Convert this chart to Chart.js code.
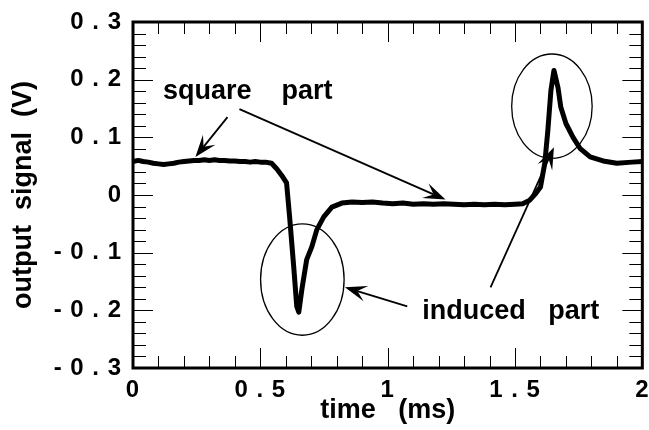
<!DOCTYPE html>
<html>
<head>
<meta charset="utf-8">
<script src="https://cdn.jsdelivr.net/npm/chart.js@4"></script>
<style>
  body { margin: 0; background: #fff; }
  canvas { display: block; }
</style>
</head>
<body>
<canvas id="grafica" width="649" height="430"></canvas>
<script>
// measured signal, time in ms, voltage in V
const timeMs = [0.00, 0.02, 0.04, 0.06, 0.08, 0.10, 0.12, 0.14, 0.16, 0.18, 0.20, 0.22, 0.24, 0.26, 0.28, 0.30,
  0.32, 0.34, 0.36, 0.38, 0.40, 0.42, 0.44, 0.46, 0.48, 0.50, 0.52, 0.544, 0.565, 0.584, 0.603, 0.615, 0.631,
  0.643, 0.651, 0.663, 0.682, 0.702, 0.722, 0.749, 0.781, 0.82, 0.86, 0.90, 0.94, 0.98, 1.02, 1.06, 1.10, 1.14,
  1.18, 1.22, 1.26, 1.30, 1.34, 1.38, 1.42, 1.46, 1.50, 1.53, 1.558, 1.582, 1.60, 1.617, 1.629, 1.641, 1.653,
  1.669, 1.68, 1.70, 1.728, 1.755, 1.795, 1.846, 1.90, 1.96, 2.00];
const signalV = [0.058, 0.060, 0.058, 0.057, 0.055, 0.054, 0.053, 0.054, 0.055, 0.057, 0.058, 0.059, 0.060, 0.060, 0.061, 0.060,
  0.061, 0.060, 0.060, 0.059, 0.059, 0.058, 0.058, 0.057, 0.058, 0.057, 0.057, 0.055, 0.045, 0.034, 0.021, -0.038, -0.124,
  -0.193, -0.203, -0.164, -0.112, -0.090, -0.060, -0.038, -0.021, -0.014, -0.012, -0.013, -0.012, -0.014, -0.015, -0.014, -0.016, -0.015,
  -0.016, -0.015, -0.016, -0.017, -0.016, -0.017, -0.016, -0.017, -0.016, -0.015, -0.009, 0.003, 0.014, 0.055, 0.112, 0.181, 0.216,
  0.186, 0.152, 0.124, 0.100, 0.081, 0.066, 0.059, 0.055, 0.057, 0.058];

const xTickValues = [0, 0.5, 1, 1.5, 2];
const xTickLabels = ['0', '0 . 5', '1', '1 . 5', '2'];
const yTickValues = [-0.3, -0.2, -0.1, 0, 0.1, 0.2, 0.3];
const yTickLabels = ['- 0 . 3', '- 0 . 2', '- 0 . 1', '0', '0 . 1', '0 . 2', '0 . 3'];

const FONT = '"Liberation Sans", Arial, sans-serif';

function etiqueta(v, valores, textos) {
  for (let i = 0; i < valores.length; i++) {
    if (Math.abs(v - valores[i]) < 1e-6) return textos[i];
  }
  return '';
}

function flecha(ctx, x0, y0, x1, y1) {
  const ang = Math.atan2(y1 - y0, x1 - x0);
  const L = 22, W = 8, notch = 13;
  ctx.beginPath();
  ctx.moveTo(x0, y0);
  ctx.lineTo(x1 - Math.cos(ang) * notch, y1 - Math.sin(ang) * notch);
  ctx.stroke();
  ctx.beginPath();
  ctx.moveTo(x1, y1);
  ctx.lineTo(x1 - Math.cos(ang) * L + Math.sin(ang) * W, y1 - Math.sin(ang) * L - Math.cos(ang) * W);
  ctx.lineTo(x1 - Math.cos(ang) * notch, y1 - Math.sin(ang) * notch);
  ctx.lineTo(x1 - Math.cos(ang) * L - Math.sin(ang) * W, y1 - Math.sin(ang) * L + Math.cos(ang) * W);
  ctx.closePath();
  ctx.fill();
}

// frame, inward ticks, axis titles and the labelled arrows/ellipses
const marco = {
  id: 'marco',
  beforeDraw(chart) {
    // spread the tick label characters a little
    chart.ctx.letterSpacing = '1px';
  },
  afterDraw(chart) {
    const ctx = chart.ctx;
    const a = chart.chartArea;
    const sx = chart.scales.x, sy = chart.scales.y;
    ctx.save();
    ctx.strokeStyle = '#000';
    ctx.fillStyle = '#000';

    ctx.lineWidth = 1;
    ctx.beginPath();
    sx.ticks.forEach(t => {
      const px = Math.round(sx.getPixelForValue(t.value)) + 0.5;
      const len = t.label ? 20 : 12;
      ctx.moveTo(px, a.bottom); ctx.lineTo(px, a.bottom - len);
      ctx.moveTo(px, a.top); ctx.lineTo(px, a.top + len);
    });
    sy.ticks.forEach(t => {
      const py = Math.round(sy.getPixelForValue(t.value)) + 0.5;
      const len = t.label ? 20 : 13;
      ctx.moveTo(a.left, py); ctx.lineTo(a.left + len, py);
      ctx.moveTo(a.right, py); ctx.lineTo(a.right - len, py);
    });
    ctx.stroke();

    ctx.lineWidth = 3;
    ctx.strokeRect(a.left, a.top, a.right - a.left, a.bottom - a.top);

    const X = v => sx.getPixelForValue(v);
    const Y = v => sy.getPixelForValue(v);

    // ellipses around the induced peaks
    ctx.lineWidth = 1.3;
    [[0.665, -0.1466, 0.164, 0.0966], [1.645, 0.154, 0.158, 0.0905]].forEach(e => {
      const rx = X(e[0] + e[2]) - X(e[0]);
      const ry = Y(e[1] - e[3]) - Y(e[1]);
      ctx.beginPath();
      ctx.ellipse(X(e[0]), Y(e[1]), rx, ry, 0, 0, Math.PI * 2);
      ctx.stroke();
    });

    ctx.lineWidth = 1.8;
    flecha(ctx, X(0.371), Y(0.135), X(0.245), Y(0.066));
    flecha(ctx, X(0.418), Y(0.149), X(1.227), Y(-0.008));
    flecha(ctx, X(1.077), Y(-0.193), X(0.832), Y(-0.160));
    flecha(ctx, X(1.404), Y(-0.160), X(1.653), Y(0.083));

    ctx.font = 'bold 27px ' + FONT;
    ctx.letterSpacing = '0px';
    ctx.textBaseline = 'alphabetic';
    ctx.textAlign = 'left';
    ctx.fillText('square    part', X(0.118), Y(0.166));
    ctx.fillText('induced   part', X(1.136), Y(-0.215));

    ctx.textAlign = 'center';
    ctx.textBaseline = 'middle';
    ctx.fillText('time   (ms)', (a.left + a.right) / 2, 411);
    ctx.translate(24, (a.top + a.bottom) / 2);
    ctx.rotate(-Math.PI / 2);
    ctx.fillText('output  signal  (V)', 0, 0);
    ctx.restore();
  }
};

new Chart(document.getElementById('grafica').getContext('2d'), {
  type: 'line',
  data: {
    datasets: [{
      data: timeMs.map((t, i) => ({ x: t, y: signalV[i] })),
      borderColor: '#000',
      borderWidth: 5,
      borderJoinStyle: 'round',
      borderCapStyle: 'round',
      pointRadius: 0,
      tension: 0,
      fill: false
    }]
  },
  options: {
    responsive: false,
    animation: false,
    layout: { padding: { top: 22, right: 3, left: 0, bottom: 0 } },
    plugins: { legend: { display: false }, tooltip: { enabled: false } },
    scales: {
      x: {
        type: 'linear',
        min: 0, max: 2,
        grid: { display: false },
        border: { display: false },
        afterFit(s) { s.height = 62; },
        ticks: {
          stepSize: 0.1,
          autoSkip: false,
          maxRotation: 0,
          padding: 0,
          color: '#000',
          font: { family: FONT, weight: 'bold', size: 24 },
          callback: v => etiqueta(v, xTickValues, xTickLabels)
        }
      },
      y: {
        min: -0.3, max: 0.3,
        grid: { display: false },
        border: { display: false },
        afterFit(s) { s.width = 133; },
        ticks: {
          stepSize: 0.02,
          autoSkip: false,
          padding: 3,
          color: '#000',
          font: { family: FONT, weight: 'bold', size: 24 },
          callback: v => etiqueta(v, yTickValues, yTickLabels)
        }
      }
    }
  },
  plugins: [marco]
});
</script>
</body>
</html>
